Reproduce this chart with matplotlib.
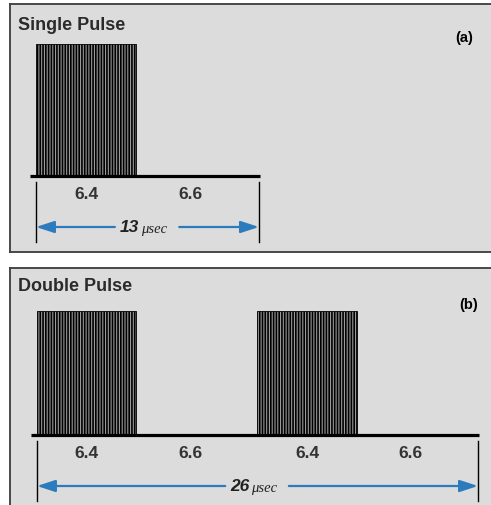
import matplotlib.pyplot as plt

# pulse trains (durations in usec)
single_segments = [6.4, 6.6]
double_segments = [6.4, 6.6, 6.4, 6.6]
single_total = 13
double_total = 26
pulse_on = 5.85  # drawn width of the burst, as seen in the picture
panel_titles = ['Single Pulse', 'Double Pulse']
panel_tags = ['(a)', '(b)']

W, H = 491, 506
plt.rcParams['hatch.color'] = 'black'
plt.rcParams['hatch.linewidth'] = 1.2

sans = ['Liberation Sans', 'DejaVu Sans']
blue = '#2b7bbd'
panel_bg = '#dcdcdc'


def px_axes(fig, left, top, right, bottom):
    # axes placed in pixel coords of the figure
    return fig.add_axes([left / W, 1 - bottom / H, (right - left) / W, (bottom - top) / H])


def draw_panel(ax, segments, total, x0px, scale, base_px, top_px, box):
    left, top, right, bottom = box
    ax.set_facecolor(panel_bg)
    for s in ax.spines.values():
        s.set_color('#3c3c3c')
        s.set_linewidth(1.3)
    ax.set_xticks([])
    ax.set_yticks([])
    unit = base_px - top_px
    ax.set_xlim((left - x0px) / scale, (right - x0px) / scale)
    ax.set_ylim((base_px - bottom) / unit, (base_px - top) / unit)

    # bursts + labels
    t = 0.0
    for i, d in enumerate(segments):
        if i % 2 == 0:
            ax.bar(t, 1.0, width=pulse_on, align='edge', color='#9a9a9a',
                   edgecolor='black', linewidth=0.6, hatch='|' * 6, zorder=2)
            mid = t + pulse_on / 2
        else:
            gap_start = t - segments[i - 1] + pulse_on
            mid = (gap_start + t + d) / 2 - 0.4
        ax.text(mid, -18 / unit, f'{d}', ha='center', va='center', fontsize=12.5,
                fontweight='bold', family=sans, color='#333333')
        t += d

    # baseline
    ax.plot([-0.35, total + 0.05], [0, 0], color='black', lw=2.3, solid_capstyle='butt', zorder=3)
    # end markers
    for xx in (0, total):
        ax.plot([xx, xx], [-6 / unit, -66 / unit], color='black', lw=1.0)
    # dimension arrow
    ya = -51 / unit
    c = total / 2
    ap = dict(arrowstyle='-|>,head_length=1.1,head_width=0.36', color=blue, lw=1.6,
              shrinkA=0, shrinkB=0, mutation_scale=10)
    ax.annotate('', xy=(0, ya), xytext=(c - 1.9, ya), arrowprops=ap)
    ax.annotate('', xy=(total, ya), xytext=(c + 1.85, ya), arrowprops=ap)
    ax.annotate(f'{total}', xy=(c, ya), xytext=(-6, 0), textcoords='offset points',
                ha='right', va='center', fontsize=12.5, fontweight='bold', fontstyle='italic',
                family=sans, color='#222222')
    ax.annotate('\u03bcsec', xy=(c, ya), xytext=(-5, -1), textcoords='offset points',
                ha='left', va='center', fontsize=10.5, fontstyle='italic',
                family=['Liberation Serif', 'DejaVu Serif'], color='#222222')


fig = plt.figure(figsize=(W / 100, H / 100), dpi=100, facecolor='white')

box_a = (10, 5, 494, 253)
box_b = (10, 269, 494, 510)
ax_a = px_axes(fig, *box_a)
ax_b = px_axes(fig, *box_b)
draw_panel(ax_a, single_segments, single_total, 36, 17.15, 177, 45, box_a)
draw_panel(ax_b, double_segments, double_total, 37, 16.96, 436, 312, box_b)

fig.text(18 / W, 1 - 26 / H, panel_titles[0], ha='left', va='center', fontsize=13,
         fontweight='bold', color='#2b2b2b', family=sans)
fig.text(18 / W, 1 - 287 / H, panel_titles[1], ha='left', va='center', fontsize=13,
         fontweight='bold', color='#2b2b2b', family=sans)
fig.text(464 / W, 1 - 38 / H, panel_tags[0], ha='center', va='center', fontsize=10.5,
         fontweight='bold', color='black', family=sans)
fig.text(469 / W, 1 - 305 / H, panel_tags[1], ha='center', va='center', fontsize=10.5,
         fontweight='bold', color='black', family=sans)

fig.savefig('out.png', dpi=100, facecolor='white')
